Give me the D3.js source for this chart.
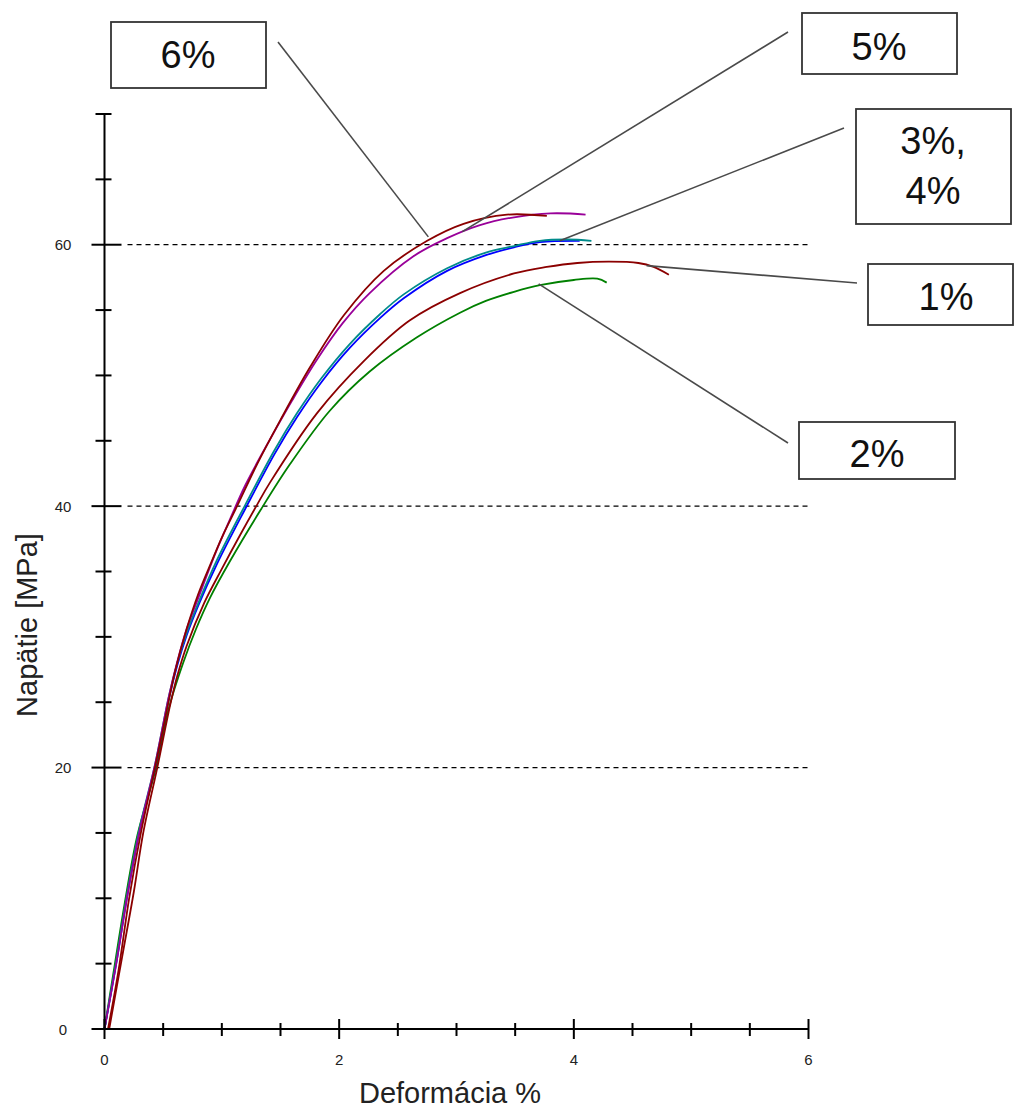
<!DOCTYPE html>
<html><head><meta charset="utf-8">
<script src="https://cdn.jsdelivr.net/npm/d3@7"></script>
<style>
body{margin:0;background:#fff;}
svg{display:block;font-family:Arial,"Liberation Sans",sans-serif;}
</style>
</head><body>
<svg id="chart" width="1014" height="1111"></svg>
<script>
// ---------------- DATA ----------------
const xDomain = [0, 6];
const yDomain = [0, 70];
const xMajorTicks = [0, 2, 4, 6];
const xMinorTicks = [0.5, 1, 1.5, 2.5, 3, 3.5, 4.5, 5, 5.5];
const yMajorTicks = [0, 20, 40, 60];
const yMinorTicks = [5, 10, 15, 25, 30, 35, 45, 50, 55, 65, 70];
const gridValues = [20, 40, 60];
const xTitle = "Deformácia %";
const yTitle = "Napätie [MPa]";

// 2 % (green)
const c2Strain = [0, 0.08, 0.17, 0.28, 0.44, 0.55, 0.67, 0.78, 0.9, 1.07, 1.33, 1.58, 1.92, 2.26, 2.66, 3.03, 3.25, 3.49, 3.71, 4.0, 4.2, 4.28];
const c2Stress = [0, 4.5, 9.5, 14.8, 20, 24.6, 28.0, 30.6, 33.0, 35.8, 39.7, 43.2, 47.3, 50.3, 52.9, 54.8, 55.7, 56.4, 56.9, 57.3, 57.4, 57.1];
// 3 % (blue)
const c3Strain = [0, 0.1, 0.2, 0.3, 0.43, 0.55, 0.62, 0.7, 0.8, 0.96, 1.2, 1.45, 1.64, 1.85, 2.09, 2.35, 2.55, 2.92, 3.25, 3.49, 3.71, 4.05];
const c3Stress = [0, 5, 10.5, 15.2, 20, 25.3, 27.8, 30.1, 32.4, 35.6, 39.8, 44, 46.8, 49.5, 52.1, 54.4, 55.9, 58, 59.2, 59.8, 60.2, 60.3];
// 4 % (teal)
const c4Strain = [0, 0.1, 0.2, 0.3, 0.43, 0.55, 0.62, 0.7, 0.8, 0.96, 1.2, 1.45, 1.64, 1.85, 2.09, 2.35, 2.55, 2.92, 3.25, 3.49, 3.71, 3.95, 4.15];
const c4Stress = [0, 5.2, 10.7, 15.4, 20.2, 25.5, 28, 30.3, 32.6, 35.9, 40.1, 44.3, 47.1, 49.8, 52.4, 54.7, 56.2, 58.2, 59.4, 59.9, 60.3, 60.4, 60.3];
// 5 % (purple)
const c5Strain = [0, 0.1, 0.2, 0.3, 0.43, 0.55, 0.62, 0.7, 0.8, 0.95, 1.07, 1.2, 1.41, 1.6, 1.81, 2.03, 2.26, 2.63, 2.92, 3.2, 3.49, 3.8, 4.1];
const c5Stress = [0, 5, 10.5, 15.2, 20.2, 25.5, 28.1, 30.6, 33, 36.5, 39, 41.6, 45.1, 48.1, 51.2, 54, 56.3, 59.1, 60.5, 61.5, 62.1, 62.4, 62.3];
// 1 % (dark red, lower)
const c1Strain = [0.04, 0.15, 0.25, 0.33, 0.45, 0.56, 0.62, 0.7, 0.85, 1.0, 1.15, 1.3, 1.41, 1.81, 2.21, 2.6, 3.03, 3.49, 3.77, 4.03, 4.3, 4.55, 4.68, 4.81];
const c1Stress = [0, 5.5, 10.5, 15, 20, 24.8, 27, 29.3, 32.6, 35.2, 37.7, 40.1, 41.8, 47.1, 51.1, 54.2, 56.3, 57.8, 58.3, 58.6, 58.7, 58.6, 58.3, 57.7];
// 6 % (dark red, upper)
const c6Strain = [0.03, 0.12, 0.21, 0.31, 0.43, 0.5, 0.6, 0.7, 0.8, 0.91, 1.0, 1.13, 1.3, 1.5, 1.75, 2.04, 2.38, 2.75, 3.06, 3.43, 3.77];
const c6Stress = [0, 4.5, 10, 15, 20, 23, 27.3, 30.6, 33.3, 35.7, 37.6, 40, 43.2, 46.6, 50.6, 54.6, 58, 60.3, 61.6, 62.3, 62.2];

const annLabels = [["6%"], ["5%"], ["3%,", "4%"], ["1%"], ["2%"]];
const annTargetStrain = [2.76, 3.05, 3.88, 4.62, 3.70];
const annTargetStress = [60.6, 61.0, 60.3, 58.4, 57.0];

// ---------------- LAYOUT / STYLE ----------------
const series = [
  {x: c2Strain, y: c2Stress, color: "#008000"},
  {x: c3Strain, y: c3Stress, color: "#0000ff"},
  {x: c4Strain, y: c4Stress, color: "#008b8b"},
  {x: c5Strain, y: c5Stress, color: "#990099"},
  {x: c1Strain, y: c1Stress, color: "#8b0000"},
  {x: c6Strain, y: c6Stress, color: "#8b0000"}
];
const annLayout = [
  {box: [111, 22, 155, 66], tx: 188, ty: [68], start: [278, 42]},
  {box: [802, 13, 155, 61], tx: 879, ty: [60], start: [788, 32]},
  {box: [856, 109, 155, 115], tx: 933, ty: [154, 204], start: [844, 128]},
  {box: [868, 264, 145, 61], tx: 946, ty: [310], start: [857, 283]},
  {box: [799, 422, 156, 57], tx: 877, ty: [467], start: [788, 443]}
];

const svg = d3.select("#chart");
const x = d3.scaleLinear().domain(xDomain).range([104.5, 808.5]);
const y = d3.scaleLinear().domain(yDomain).range([1029, 114]);

// grid lines
svg.append("g").selectAll("line").data(gridValues).join("line")
  .attr("x1", x(0) + 23).attr("x2", x(6))
  .attr("y1", d => y(d)).attr("y2", d => y(d))
  .attr("stroke", "#000").attr("stroke-width", 1.3)
  .attr("stroke-dasharray", "5,4");

// curves
const line = d3.line().x(d => x(d[0])).y(d => y(d[1])).curve(d3.curveCatmullRom.alpha(0.5));
svg.append("g").selectAll("path").data(series).join("path")
  .attr("d", s => line(s.x.map((v, i) => [v, s.y[i]])))
  .attr("fill", "none").attr("stroke", s => s.color).attr("stroke-width", 1.8);

// axes lines
const axisG = svg.append("g").attr("stroke", "#000").attr("stroke-width", 2);
axisG.append("line").attr("x1", x(0)).attr("x2", x(6)).attr("y1", y(0)).attr("y2", y(0));
axisG.append("line").attr("x1", x(0)).attr("x2", x(0)).attr("y1", y(0)).attr("y2", y(70));
axisG.selectAll(".xmaj").data(xMajorTicks).join("line").attr("class", "xmaj")
  .attr("x1", d => x(d)).attr("x2", d => x(d)).attr("y1", y(0) - 10).attr("y2", y(0) + 10);
axisG.selectAll(".xmin").data(xMinorTicks).join("line").attr("class", "xmin")
  .attr("x1", d => x(d)).attr("x2", d => x(d)).attr("y1", y(0) - 6).attr("y2", y(0) + 7);
axisG.selectAll(".ymaj").data(yMajorTicks).join("line").attr("class", "ymaj")
  .attr("x1", x(0) - 13).attr("x2", x(0) + 17).attr("y1", d => y(d)).attr("y2", d => y(d));
axisG.selectAll(".ymin").data(yMinorTicks).join("line").attr("class", "ymin")
  .attr("x1", x(0) - 9).attr("x2", x(0) + 7).attr("y1", d => y(d)).attr("y2", d => y(d));

// tick labels
svg.append("g").selectAll("text").data(xMajorTicks).join("text")
  .attr("x", d => x(d)).attr("y", y(0) + 36)
  .attr("text-anchor", "middle").attr("font-size", 15).attr("fill", "#222")
  .text(d => d);
svg.append("g").selectAll("text").data(yMajorTicks).join("text")
  .attr("x", 63).attr("y", d => y(d) + 5.5)
  .attr("text-anchor", "middle").attr("font-size", 15).attr("fill", "#222")
  .text(d => d);

// axis titles
svg.append("text").attr("x", 450).attr("y", 1103).attr("text-anchor", "middle")
  .attr("font-size", 29).attr("fill", "#222").text(xTitle);
svg.append("text").attr("transform", "translate(37,625) rotate(-90)").attr("text-anchor", "middle")
  .attr("font-size", 29).attr("fill", "#222").text(yTitle);

// annotations
const ann = svg.append("g");
annLabels.forEach((lbl, i) => {
  const L = annLayout[i];
  ann.append("line")
    .attr("x1", L.start[0]).attr("y1", L.start[1])
    .attr("x2", x(annTargetStrain[i])).attr("y2", y(annTargetStress[i]))
    .attr("stroke", "#4a4a4a").attr("stroke-width", 1.6);
  ann.append("rect").attr("x", L.box[0]).attr("y", L.box[1])
    .attr("width", L.box[2]).attr("height", L.box[3])
    .attr("fill", "#fff").attr("stroke", "#333").attr("stroke-width", 1.8);
  lbl.forEach((t, j) => {
    ann.append("text").attr("x", L.tx).attr("y", L.ty[j])
      .attr("text-anchor", "middle").attr("font-size", 38).attr("fill", "#111").text(t);
  });
});
</script>
</body></html>
